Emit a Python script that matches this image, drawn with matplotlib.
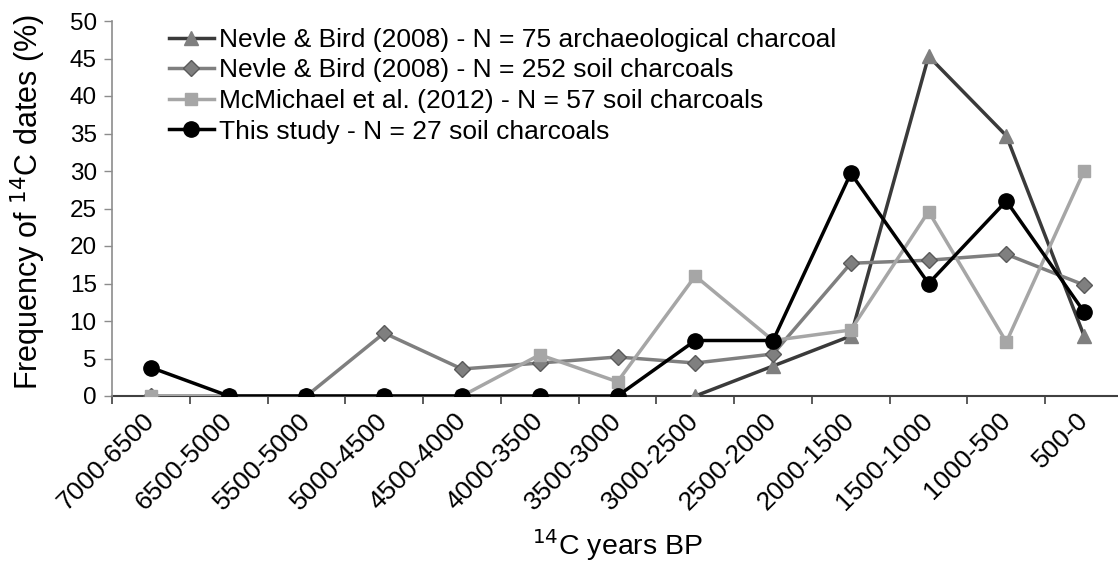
import numpy as np
import matplotlib
matplotlib.use("Agg")
import matplotlib.pyplot as plt
from matplotlib.ticker import FixedLocator, MultipleLocator

plt.rcParams['font.family'] = ['Liberation Sans', 'DejaVu Sans']

categories = ["7000-6500", "6500-5000", "5500-5000", "5000-4500", "4500-4000",
              "4000-3500", "3500-3000", "3000-2500", "2500-2000", "2000-1500",
              "1500-1000", "1000-500", "500-0"]
nan = np.nan
archaeo = [nan, nan, nan, nan, nan, nan, nan, 0, 4.0, 8.0, 45.3, 34.7, 8.0]
soil252 = [0, 0, 0, 8.4, 3.6, 4.4, 5.2, 4.4, 5.6, 17.7, 18.1, 18.9, 14.8]
mcm57 = [0, 0, 0, 0, 0, 5.5, 1.9, 16.0, 7.4, 8.8, 24.6, 7.2, 30.0]
this27 = [3.8, 0, 0, 0, 0, 0, 0, 7.4, 7.4, 29.7, 15.0, 26.0, 11.2]

labels = ["Nevle & Bird (2008) - N = 75 archaeological charcoal",
          "Nevle & Bird (2008) - N = 252 soil charcoals",
          "McMichael et al. (2012) - N = 57 soil charcoals",
          "This study - N = 27 soil charcoals"]

fig = plt.figure(figsize=(11.18, 5.63), dpi=100)
ax = fig.add_axes([112 / 1118, 1 - 396 / 563, 1011 / 1118, 375 / 563])
x = np.arange(len(categories))

ax.plot(x, archaeo, color='#3a3a3a', lw=2.5, marker='^', ms=10,
        mfc='#7f7f7f', mec='#7f7f7f', label=labels[0], zorder=3)
ax.plot(x, soil252, color='#7f7f7f', lw=2.5, marker='D', ms=8.5,
        mfc='#7f7f7f', mec='#5a5a5a', mew=1, label=labels[1], zorder=4)
ax.plot(x, mcm57, color='#a6a6a6', lw=2.5, marker='s', ms=9,
        mfc='#a6a6a6', mec='#a6a6a6', label=labels[2], zorder=5)
ax.plot(x, this27, color='black', lw=2.5, marker='o', ms=11,
        mfc='black', mec='black', label=labels[3], zorder=6)

ax.set_xlim(-0.5, len(categories) - 0.5)
ax.set_ylim(0, 50)
ax.yaxis.set_major_locator(MultipleLocator(5))
ax.set_xticks(x)
ax.set_xticklabels(categories, rotation=45, ha='right', va='center',
                   rotation_mode='anchor', fontsize=19)
ax.xaxis.set_minor_locator(FixedLocator(np.arange(-0.5, len(categories), 1)))
ax.tick_params(axis='x', which='major', length=0, pad=15)
ax.tick_params(axis='x', which='minor', length=6, width=1.2, color='#404040', direction='out')
ax.tick_params(axis='y', length=6, width=1, color='#8c8c8c', direction='out', labelsize=17.5, pad=5)

for s in ['top', 'right']:
    ax.spines[s].set_visible(False)
ax.spines['left'].set_color('#8c8c8c')
ax.spines['left'].set_linewidth(1.2)
ax.spines['bottom'].set_color('#404040')
ax.spines['bottom'].set_linewidth(1.5)
ax.spines['bottom'].set_zorder(2)

ax.set_ylabel("Frequency of $^{14}$C dates (%)", fontsize=22)
ax.yaxis.label.set_va('center')
ax.yaxis.set_label_coords(-0.083, 0.517)
ax.set_xlabel("$^{14}$C years BP", fontsize=20.5)
ax.xaxis.label.set_va('baseline')
ax.xaxis.set_label_coords(0.5, -0.424)

leg = ax.legend(loc='upper left', bbox_to_anchor=(0.046, 1.01), frameon=False,
                fontsize=19, handlelength=1.7, handletextpad=0.2,
                labelspacing=0.25, borderaxespad=0)

ax.patch.set_visible(False)
fig.savefig("out.png", dpi=100)
